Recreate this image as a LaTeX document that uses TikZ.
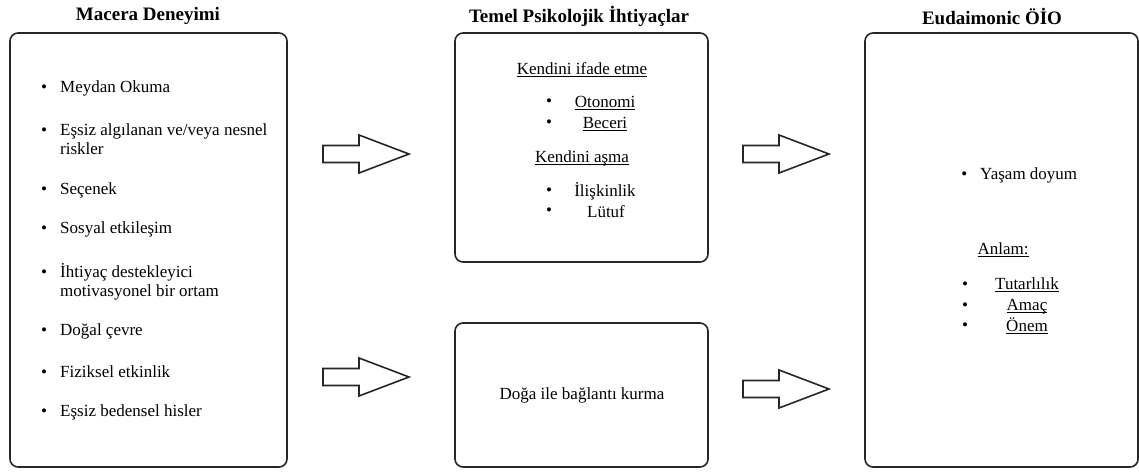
\documentclass[tikz,border=0pt]{standalone}
\usepackage{fontspec}
\setmainfont{Liberation Serif}
\newcommand\madde{\llap{\textbullet\hspace{13pt}}}
\newcommand\altcizgi[1]{\underline{\raisebox{0pt}[\height][0pt]{#1}}}
\begin{document}
\begin{tikzpicture}[x=1pt,y=-1pt,
	kutu/.style={draw=black!85,line width=1.6pt,rounded corners=8pt},
	okblok/.style={draw=black!85,line width=1.6pt,fill=white},
	baslik/.style={font=\fontsize{19}{22}\selectfont\bfseries,inner sep=0pt},
	yazi/.style={font=\fontsize{17}{19}\selectfont,inner sep=0pt,align=left}]
	\useasboundingbox (0,0) rectangle (1139,471);
	% basliklar
	\node[baslik] (B1) at (148,16) {Macera Deneyimi};
	\node[baslik] (B2) at (579,16) {Temel Psikolojik İhtiyaçlar};
	\node[baslik] (B3) at (992,16) {Eudaimonic ÖİO};
	% kutular
	\draw[kutu] (10,33) rectangle (287,467);
	\draw[kutu] (455,33) rectangle (708,262);
	\draw[kutu] (455,323) rectangle (708,467);
	\draw[kutu] (865,33) rectangle (1138,467);
	% oklar
	\draw[okblok] (323,145.5) -- ++(36,0) -- ++(0,-10.5) -- ++(50,19) -- ++(-50,19) -- ++(0,-10.5) -- ++(-36,0) -- cycle;
	\draw[okblok] (323,368.5) -- ++(36,0) -- ++(0,-10.5) -- ++(50,19) -- ++(-50,19) -- ++(0,-10.5) -- ++(-36,0) -- cycle;
	\draw[okblok] (743,145.5) -- ++(36,0) -- ++(0,-10.5) -- ++(50,19) -- ++(-50,19) -- ++(0,-10.5) -- ++(-36,0) -- cycle;
	\draw[okblok] (743,380.5) -- ++(36,0) -- ++(0,-10.5) -- ++(50,19) -- ++(-50,19) -- ++(0,-10.5) -- ++(-36,0) -- cycle;
	% Macera Deneyimi
	\node[yazi,anchor=west] (M1) at (60,88) {\madde Meydan Okuma};
	\node[yazi,anchor=west] (M2) at (60,139) {\madde Eşsiz algılanan ve/veya nesnel\\riskler};
	\node[yazi,anchor=west] (M3) at (60,190) {\madde Seçenek};
	\node[yazi,anchor=west] (M4) at (60,229) {\madde Sosyal etkileşim};
	\node[yazi,anchor=west] (M5) at (60,281.5) {\madde İhtiyaç destekleyici\\motivasyonel bir ortam};
	\node[yazi,anchor=west] (M6) at (60,331) {\madde Doğal çevre};
	\node[yazi,anchor=west] (M7) at (60,372) {\madde Fiziksel etkinlik};
	\node[yazi,anchor=west] (M8) at (60,412) {\madde Eşsiz bedensel hisler};
	% Temel Psikolojik Ihtiyaclar
	\node[yazi] (T1) at (582,70) {\altcizgi{Kendini ifade etme}};
	\node[yazi] (T2) at (605,103) {\altcizgi{Otonomi}};
	\node[yazi] (T3) at (605,124) {\altcizgi{Beceri}};
	\node[yazi] (T4) at (582,158) {\altcizgi{Kendini aşma}};
	\node[yazi] (T5) at (605,191) {İlişkinlik};
	\node[yazi] (T6) at (606,212) {Lütuf};
	\node[yazi] (T2b) at (549,103) {\textbullet};
	\node[yazi] (T3b) at (549,124) {\textbullet};
	\node[yazi] (T5b) at (549,192) {\textbullet};
	\node[yazi] (T6b) at (549,212) {\textbullet};
	\node[yazi] (D1) at (582,395) {Doğa ile bağlantı kurma};
	% Eudaimonic OIO
	\node[yazi,anchor=west] (E1) at (980,175) {\madde Yaşam doyum};
	\node[yazi] (E2) at (1003,250) {\altcizgi{Anlam:}};
	\node[yazi] (E3) at (1027,285) {\altcizgi{Tutarlılık}};
	\node[yazi] (E4) at (1027,306) {\altcizgi{Amaç}};
	\node[yazi] (E5) at (1027,326) {\altcizgi{Önem}};
	\node[yazi] (E3b) at (965,286) {\textbullet};
	\node[yazi] (E4b) at (965,307) {\textbullet};
	\node[yazi] (E5b) at (965,327) {\textbullet};
\end{tikzpicture}
\end{document}
